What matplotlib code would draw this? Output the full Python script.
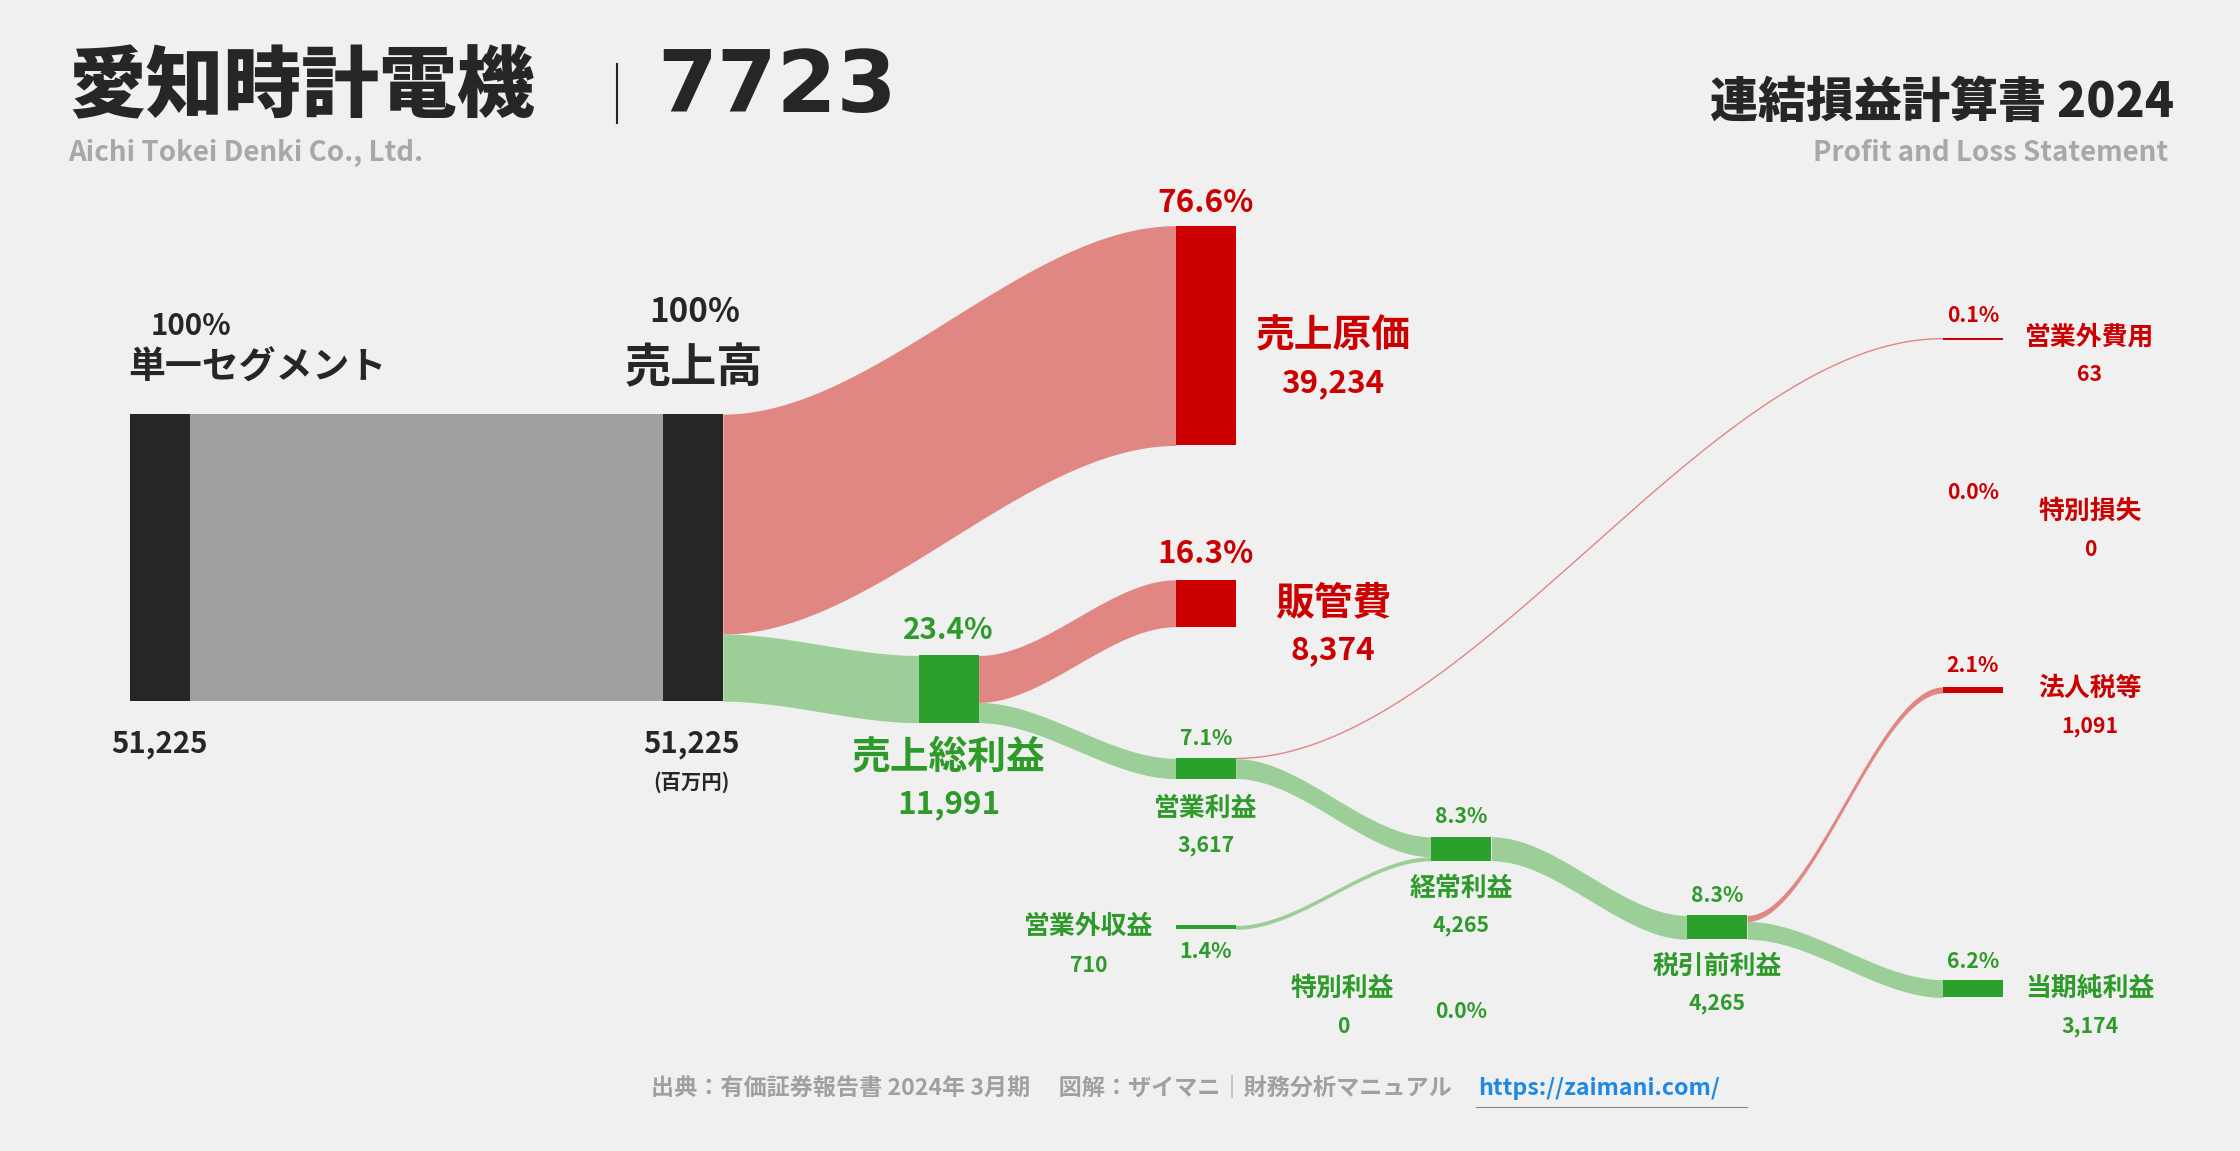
import matplotlib
matplotlib.use("Agg")
import matplotlib.pyplot as plt
import numpy as np

# ---- data (百万円) ----
segment_names = ["単一セグメント"]
segment_values = [51225]
revenue = 51225
cogs = 39234
sga = 8374
gross = 11991
op_income = 3617
nonop_income = 710
nonop_expense = 63
ordinary = 4265
special_gain = 0
special_loss = 0
pretax = 4265
tax = 1091
net = 3174

F = "Noto Sans CJK JP"
BG = "#f0f0f0"
PINK = "#e08683"; GREENF = "#9ccf98"; GRAY = "#a0a0a0"; DARK = "#262626"
RED = "#cc0000"; GN = "#2ca02c"; GT = "#2e9a2a"
S = 1.33

fig = plt.figure(figsize=(22.4, 11.51), dpi=100, facecolor=BG)
ax = fig.add_axes([0, 0, 1, 1]); ax.set_xlim(0, 1568); ax.set_ylim(806, 0); ax.axis("off")
ax.set_facecolor(BG)

k = 201.0 / revenue  # px per unit
W = 42

def h(v): return v * k

def node(x, y, v, c, minh=0):
    ax.add_patch(plt.Rectangle((x, y), W, max(h(v), minh), color=c, lw=0, zorder=3))

def flow(x0, y0a, y0b, x1, y1a, y1b, c, alpha=1.0):
    t = np.linspace(0, 1, 200)
    s = 3 * t**2 - 2 * t**3
    xs = x0 + (x1 - x0) * t
    top = y0a + (y1a - y0a) * s
    bot = y0b + (y1b - y0b) * s
    if abs(y0b - y0a) < 1.2:
        ax.plot(xs, (top + bot) / 2, color=c, lw=1.0, alpha=alpha, zorder=2)
    else:
        ax.fill_between(xs, top, bot, color=c, lw=0, alpha=alpha, zorder=2)

def txt(x, y, s, size, color=DARK, ha="center", w="bold", family=F, scale=True):
    ax.text(x, y, s, fontsize=size * (S if scale else 1), color=color, ha=ha, va="center",
            fontweight=w, family=family)

seg_y = 290; rev_y = 290
cogs_y = 158; sga_y = 406; gross_y = 459; op_y = 531; ord_y = 586; pre_y = 641
tax_y = 481; net_y = 686; nie_y = 237; nii_y = 648

x_seg, x_rev, x_gross, x_c2, x_ord, x_pre, x_c4 = 91, 464, 643, 823, 1002, 1181, 1360

ax.add_patch(plt.Rectangle((x_seg + W, seg_y), x_rev - x_seg - W, h(revenue), color=GRAY, lw=0))
flow(x_rev + W, rev_y, rev_y + h(cogs), x_c2, cogs_y, cogs_y + h(cogs), PINK)
flow(x_rev + W, rev_y + h(cogs), rev_y + h(revenue), x_gross, gross_y, gross_y + h(gross), GREENF)
flow(x_gross + W, gross_y, gross_y + h(sga), x_c2, sga_y, sga_y + h(sga), PINK)
flow(x_gross + W, gross_y + h(sga), gross_y + h(gross), x_c2, op_y, op_y + h(op_income), GREENF)
flow(x_c2 + W, op_y, op_y + h(nonop_expense), x_c4, nie_y, nie_y + h(nonop_expense), PINK)
flow(x_c2 + W, op_y + h(nonop_expense), op_y + h(op_income), x_ord, ord_y, ord_y + h(op_income - nonop_expense), GREENF)
flow(x_c2 + W, nii_y, nii_y + h(nonop_income), x_ord, ord_y + h(op_income - nonop_expense), ord_y + h(ordinary), GREENF)
flow(x_ord + W, ord_y, ord_y + h(ordinary), x_pre, pre_y, pre_y + h(pretax), GREENF)
flow(x_pre + W, pre_y, pre_y + h(tax), x_c4, tax_y, tax_y + h(tax), PINK)
flow(x_pre + W, pre_y + h(tax), pre_y + h(pretax), x_c4, net_y, net_y + h(net), GREENF)

node(x_seg, seg_y, segment_values[0], DARK)
node(x_rev, rev_y, revenue, DARK)
node(x_c2, cogs_y, cogs, RED)
node(x_c2, sga_y, sga, RED)
node(x_gross, gross_y, gross, GN)
node(x_c2, op_y, op_income, GN)
node(x_c2, nii_y, nonop_income, GN)
node(x_ord, ord_y, ordinary, GN)
node(x_pre, pre_y, pretax, GN)
node(x_c4, tax_y, tax, RED)
node(x_c4, net_y, net, GN)
node(x_c4, nie_y, nonop_expense, RED, minh=0.8)

def pct(v): return f"{v / revenue * 100:.1f}%"
def num(v): return f"{v:,}"

# header
txt(48, 62, "愛知時計電機", 56, DARK, ha="left", w="black", scale=False)
ax.plot([432, 432], [45, 86], color=DARK, lw=1.5)
txt(460, 62, "7723", 62, DARK, ha="left", w="black", family="DejaVu Sans", scale=False)
txt(48, 107, "Aichi Tokei Denki Co., Ltd.", 15, "#a8a8a8", ha="left")
txt(1522, 72, "連結損益計算書 2024", 26, DARK, ha="right", w="black")
txt(1518, 107, "Profit and Loss Statement", 15, "#a8a8a8", ha="right")

# left labels
txt(134, 228, "100%", 16)
txt(180, 258, segment_names[0], 20)
txt(486, 219, "100%", 18)
txt(486, 258, "売上高", 25)
txt(112, 521, num(segment_values[0]), 16)
txt(484, 521, num(revenue), 16)
txt(484, 548, "(百万円)", 11)

txt(844, 142, pct(cogs), 17, RED)
txt(933, 235, "売上原価", 21, RED)
txt(933, 268, num(cogs), 17, RED)
txt(844, 388, pct(sga), 17, RED)
txt(933, 422, "販管費", 21, RED)
txt(933, 455, num(sga), 17, RED)

txt(664, 441, pct(gross), 16, GT)
txt(664, 530, "売上総利益", 21, GT)
txt(664, 563, num(gross), 17, GT)

txt(844, 517, pct(op_income), 11.5, GT)
txt(844, 566, "営業利益", 14, GT)
txt(844, 592, num(op_income), 11.5, GT)

txt(762, 649, "営業外収益", 14, GT)
txt(762, 676, num(nonop_income), 11.5, GT)
txt(844, 666, pct(nonop_income), 11.5, GT)

txt(1023, 572, pct(ordinary), 11.5, GT)
txt(1023, 622, "経常利益", 14, GT)
txt(1023, 648, num(ordinary), 11.5, GT)

txt(940, 692, "特別利益", 14, GT)
txt(940, 719, num(special_gain), 11.5, GT)
txt(1023, 708, pct(special_gain), 11.5, GT)

txt(1202, 627, pct(pretax), 11.5, GT)
txt(1202, 677, "税引前利益", 14, GT)
txt(1202, 703, num(pretax), 11.5, GT)

txt(1381, 221, pct(nonop_expense), 11.5, RED)
txt(1463, 236, "営業外費用", 14, RED)
txt(1463, 262, num(nonop_expense), 11.5, RED)
txt(1381, 345, pct(special_loss), 11.5, RED)
txt(1463, 358, "特別損失", 14, RED)
txt(1463, 385, num(special_loss), 11.5, RED)
txt(1381, 466, pct(tax), 11.5, RED)
txt(1463, 482, "法人税等", 14, RED)
txt(1463, 509, num(tax), 11.5, RED)
txt(1381, 673, pct(net), 11.5, GT)
txt(1463, 692, "当期純利益", 14, GT)
txt(1463, 719, num(net), 11.5, GT)

txt(1016, 762, "出典：有価証券報告書 2024年 3月期　 図解：ザイマニ｜財務分析マニュアル", 12.5, "#a0a0a0", ha="right")
txt(1035, 762, "https://zaimani.com/", 12.5, "#1e88e5", ha="left")
ax.plot([1033, 1223], [775, 775], color="#888888", lw=0.8)

fig.savefig("out.png", dpi=100, facecolor=BG)
